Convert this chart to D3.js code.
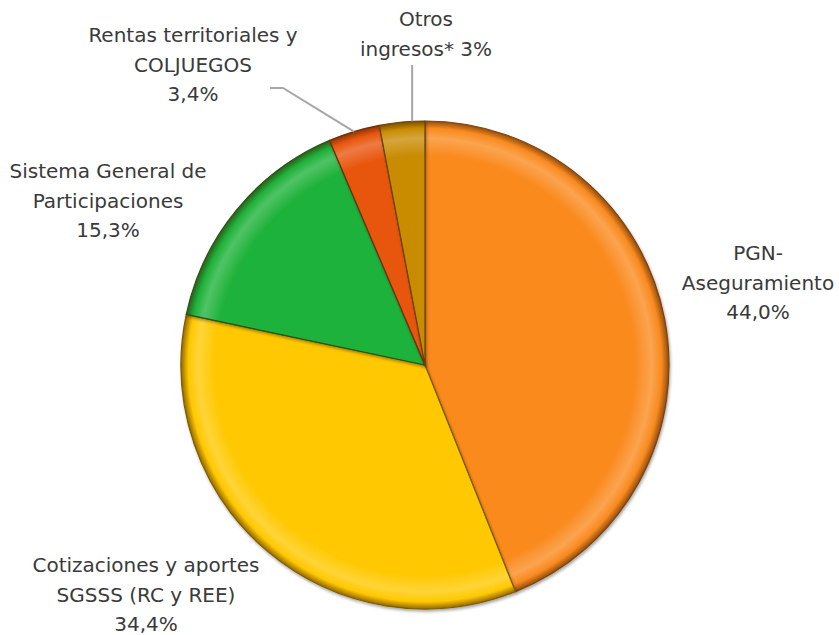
<!DOCTYPE html>
<html>
<head>
<meta charset="utf-8">
<script src="https://cdn.jsdelivr.net/npm/d3@7/dist/d3.min.js"></script>
<style>
  html, body { margin: 0; padding: 0; background: #ffffff; }
  svg { display: block; }
  text { font-family: "DejaVu Sans", sans-serif; fill: #3a3a3a; }
</style>
</head>
<body>
<svg id="chart" width="839" height="635"></svg>
<script>
// ---- Data ----
const categories = [
  "PGN-Aseguramiento",
  "Cotizaciones y aportes SGSSS (RC y REE)",
  "Sistema General de Participaciones",
  "Rentas territoriales y COLJUEGOS",
  "Otros ingresos*"
];
const values = [44.0, 34.4, 15.3, 3.4, 3.0];
const labelLines = [
  ["PGN-", "Aseguramiento", "44,0%"],
  ["Cotizaciones y aportes", "SGSSS (RC y REE)", "34,4%"],
  ["Sistema General de", "Participaciones", "15,3%"],
  ["Rentas territoriales y", "COLJUEGOS", "3,4%"],
  ["Otros", "ingresos* 3%"]
];
const colors = ["#FA8A1E", "#FFC800", "#1FB23A", "#E8560E", "#C98C05"];

// ---- Layout ----
const cx = 425, cy = 365, R = 244;
const fontSize = 20, lineH = 29.5;
const labelPos = [
  {x: 758, y: 260},
  {x: 146, y: 572},
  {x: 108, y: 178},
  {x: 193, y: 42},
  {x: 426, y: 26}
];

const svg = d3.select("#chart");
const defs = svg.append("defs");
const mix = (c, t, amt) => d3.interpolateRgb(c, t)(amt);

colors.forEach((c, i) => {
  const gr = defs.append("radialGradient")
    .attr("id", "grad" + i)
    .attr("gradientUnits", "userSpaceOnUse")
    .attr("cx", 0).attr("cy", 0).attr("r", R);
  gr.append("stop").attr("offset", "0%").attr("stop-color", c);
  gr.append("stop").attr("offset", "86%").attr("stop-color", c);
  gr.append("stop").attr("offset", "93%").attr("stop-color", mix(c, "#ffffff", 0.22));
  gr.append("stop").attr("offset", "97%").attr("stop-color", c);
  gr.append("stop").attr("offset", "100%").attr("stop-color", mix(c, "#3a1a00", 0.55));
});

const shadow = defs.append("filter").attr("id", "shadow")
  .attr("x", "-10%").attr("y", "-10%").attr("width", "120%").attr("height", "120%");
shadow.append("feGaussianBlur").attr("in", "SourceAlpha").attr("stdDeviation", 1.5).attr("result", "b");
shadow.append("feOffset").attr("in", "b").attr("dx", 1).attr("dy", 1.5).attr("result", "o");
shadow.append("feComponentTransfer").attr("in", "o").attr("result", "o2")
  .append("feFuncA").attr("type", "linear").attr("slope", 0.35);
const fm = shadow.append("feMerge");
fm.append("feMergeNode").attr("in", "o2");
fm.append("feMergeNode").attr("in", "SourceGraphic");

const pie = d3.pie().sort(null).value(d => d);
const arcs = pie(values);
const arc = d3.arc().innerRadius(0).outerRadius(R);

const g = svg.append("g").attr("transform", `translate(${cx},${cy})`);

g.selectAll("path.slice")
  .data(arcs)
  .join("path")
  .attr("class", "slice")
  .attr("d", arc)
  .attr("fill", (d, i) => `url(#grad${i})`)
  .attr("stroke", (d, i) => mix(colors[i], "#2a1400", 0.6))
  .attr("stroke-width", 1.2)
  .attr("stroke-linejoin", "round")
  .attr("filter", "url(#shadow)");

// ---- Leader lines ----
function edgePoint(d, frac, rr) {
  const a = d.startAngle + (d.endAngle - d.startAngle) * frac;
  return [cx + rr * Math.sin(a), cy - rr * Math.cos(a)];
}
const leaderG = svg.append("g").attr("fill", "none").attr("stroke", "#a6a6a6").attr("stroke-width", 2);
{
  const p = edgePoint(arcs[3], 0.5, R);
  leaderG.append("path").attr("d", d3.line()([[270, 88], [283, 88], p]));
}
{
  const p = edgePoint(arcs[4], 0.72, R);
  leaderG.append("path").attr("d", d3.line()([[p[0], 65], p]));
}

// ---- Labels ----
labelLines.forEach((lines, i) => {
  const pos = labelPos[i];
  const t = svg.append("text")
    .attr("text-anchor", "middle")
    .attr("font-size", fontSize);
  lines.forEach((ln, j) => {
    t.append("tspan")
      .attr("x", pos.x)
      .attr("y", pos.y + j * lineH)
      .text(ln);
  });
});
</script>
</body>
</html>
